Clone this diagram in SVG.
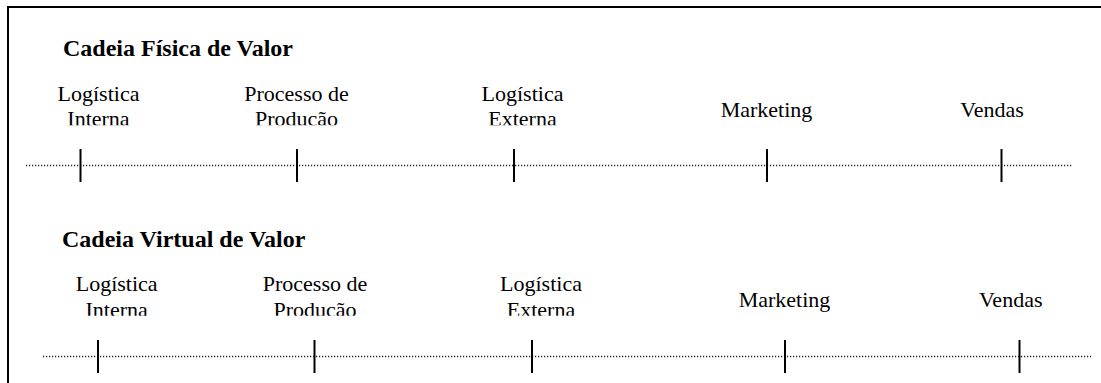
<svg xmlns="http://www.w3.org/2000/svg" width="1101" height="383" viewBox="0 0 1101 383">
<style>
.title{font-size:24px;font-weight:bold;fill:#000}
.lbl{font-size:22px;fill:#000;text-anchor:middle}
.tick{stroke:#000;stroke-width:2}
.dot{stroke:#222;stroke-width:1.3;stroke-dasharray:1.2 1.8;fill:none}
</style>
<defs>
<clipPath id="clipTop"><rect x="0" y="0" width="1101" height="125.3"/></clipPath>
<clipPath id="clipBot"><rect x="0" y="190" width="1101" height="125.8"/></clipPath>
</defs>
<rect x="0" y="0" width="1101" height="383" fill="#fff"/>
<path d="M8,384 V7 H1102" fill="none" stroke="#000" stroke-width="2"/>

<g id="connectors">
<line class="dot" x1="26" y1="165.5" x2="1072" y2="165.5"/>
<line class="dot" x1="43" y1="356.5" x2="1091" y2="356.5"/>
</g>

<g font-family="Liberation Serif">
<g id="title-fisica"><text class="title" x="63" y="56">Cadeia Física de Valor</text></g>
<g id="f-log-int" clip-path="url(#clipTop)">
<text class="lbl" x="98.5" y="100.5">Logística</text>
<text class="lbl" x="98.5" y="126">Interna</text>
</g>
<g id="f-tick-1"><line class="tick" x1="80.5" y1="149" x2="80.5" y2="182"/></g>
<g id="f-proc" clip-path="url(#clipTop)">
<text class="lbl" x="296.5" y="100.5">Processo de</text>
<text class="lbl" x="296.5" y="126">Producão</text>
</g>
<g id="f-tick-2"><line class="tick" x1="297" y1="149" x2="297" y2="182"/></g>
<g id="f-log-ext" clip-path="url(#clipTop)">
<text class="lbl" x="522.5" y="100.5">Logística</text>
<text class="lbl" x="522.5" y="126">Externa</text>
</g>
<g id="f-tick-3"><line class="tick" x1="514" y1="149" x2="514" y2="182"/></g>
<g id="f-mkt"><text class="lbl" x="766.5" y="116.7">Marketing</text></g>
<g id="f-tick-4"><line class="tick" x1="767" y1="149" x2="767" y2="182"/></g>
<g id="f-vendas"><text class="lbl" x="992" y="116.7">Vendas</text></g>
<g id="f-tick-5"><line class="tick" x1="1001.5" y1="149" x2="1001.5" y2="182"/></g>

<g id="title-virtual"><text class="title" x="62" y="247">Cadeia Virtual de Valor</text></g>
<g id="v-log-int" clip-path="url(#clipBot)">
<text class="lbl" x="116.7" y="291">Logística</text>
<text class="lbl" x="116.7" y="316.5">Interna</text>
</g>
<g id="v-tick-1"><line class="tick" x1="98" y1="340" x2="98" y2="373"/></g>
<g id="v-proc" clip-path="url(#clipBot)">
<text class="lbl" x="315" y="291">Processo de</text>
<text class="lbl" x="315" y="316.5">Producão</text>
</g>
<g id="v-tick-2"><line class="tick" x1="314.5" y1="340" x2="314.5" y2="373"/></g>
<g id="v-log-ext" clip-path="url(#clipBot)">
<text class="lbl" x="541" y="291">Logística</text>
<text class="lbl" x="541" y="316.5">Externa</text>
</g>
<g id="v-tick-3"><line class="tick" x1="532" y1="340" x2="532" y2="373"/></g>
<g id="v-mkt"><text class="lbl" x="784.5" y="307.3">Marketing</text></g>
<g id="v-tick-4"><line class="tick" x1="785" y1="340" x2="785" y2="373"/></g>
<g id="v-vendas"><text class="lbl" x="1010.7" y="307.3">Vendas</text></g>
<g id="v-tick-5"><line class="tick" x1="1019.5" y1="340" x2="1019.5" y2="373"/></g>
</g>
</svg>
